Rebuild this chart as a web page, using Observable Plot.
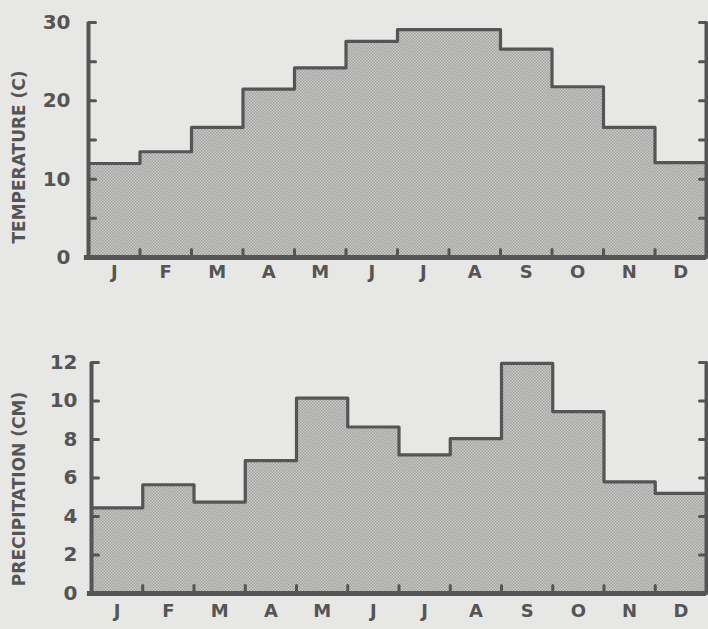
<!DOCTYPE html>
<html>
<head>
<meta charset="utf-8">
<script src="https://cdn.jsdelivr.net/npm/d3@7"></script>
<script src="https://cdn.jsdelivr.net/npm/@observablehq/plot@0.6"></script>
<style>
  html, body { margin: 0; padding: 0; background: #e7e7e5; }
  #wrap { width: 708px; height: 629px; position: relative; overflow: hidden; }
  #wrap svg { display: block; background: transparent; }
</style>
</head>
<body>
<div id="wrap"></div>
<script>
const months = ["J","F","M","A","M","J","J","A","S","O","N","D"];
const temperature = [12.0, 13.5, 16.6, 21.5, 24.2, 27.6, 29.1, 29.1, 26.6, 21.8, 16.6, 12.1];
const precipitation = [4.45, 5.65, 4.75, 6.9, 10.15, 8.65, 7.2, 8.05, 11.95, 9.45, 5.8, 5.2];
const tempTicks = [0, 5, 10, 15, 20, 25, 30];
const tempLabels = [0, 10, 20, 30];
const precTicks = [0, 2, 4, 6, 8, 10, 12];
const precLabels = [0, 2, 4, 6, 8, 10, 12];

const INK = "#555";
const FONT = "'DejaVu Sans', Lato, sans-serif";

function steps(values) {
  const rows = values.map((v, i) => ({x: i, v}));
  rows.push({x: values.length, v: values[values.length - 1]});
  return rows;
}

const lineShape = {draw(context, l) { context.moveTo(0, 0); context.lineTo(0, -l); }};

function chart({values, yMax, ticks, labels, yLabel, height, marginTop, marginBottom, marginLeft, tickPadding, monthDy, labelY}) {
  const data = steps(values);
  const svg = Plot.plot({
    width: 708,
    height,
    marginTop,
    marginBottom,
    marginLeft,
    marginRight: 2,
    style: {background: "transparent", fontFamily: FONT, color: INK},
    x: {domain: [0, 12], axis: null},
    y: {domain: [0, yMax], axis: null},
    marks: [
      Plot.areaY(data, {x: "x", y: "v", curve: "step-after", fill: "url(#dots)"}),
      Plot.lineY(data, {x: "x", y: "v", curve: "step-after", stroke: INK, strokeWidth: 3.2}),
      Plot.vector(ticks, {x: 0, y: d => d, length: 7, rotate: 90, anchor: "start", shape: lineShape, stroke: INK, strokeWidth: 3}),
      Plot.vector(ticks, {x: 12, y: d => d, length: 7, rotate: -90, anchor: "start", shape: lineShape, stroke: INK, strokeWidth: 3}),
      Plot.vector(d3.range(1, 12), {x: d => d, y: 0, length: 8, rotate: 0, anchor: "start", shape: lineShape, stroke: INK, strokeWidth: 3}),
      Plot.axisY({ticks: labels, anchor: "left", tickSize: 0, tickPadding, fontSize: 20, fontWeight: "bold", fill: INK, label: null}),
      Plot.axisX({ticks: d3.range(12).map(i => i + 0.5), anchor: "bottom", tickSize: 0, tickPadding: monthDy,
        tickFormat: d => months[Math.floor(d)], fontSize: 18, fontWeight: "bold", fill: INK, label: null}),
      Plot.ruleX([0], {stroke: INK, strokeWidth: 4}),
      Plot.ruleX([12], {stroke: INK, strokeWidth: 4}),
      Plot.ruleY([0], {stroke: INK, strokeWidth: 5, x1: -0.08, x2: 12})
    ]
  });
  const s = d3.select(svg);
  const defs = s.insert("defs", ":first-child");
  const p = defs.append("pattern").attr("id", "dots").attr("patternUnits", "userSpaceOnUse")
    .attr("width", 3).attr("height", 3);
  p.append("rect").attr("width", 3).attr("height", 3).attr("fill", "#cbcbc9");
  p.append("rect").attr("x", 0).attr("y", 0).attr("width", 1.5).attr("height", 1.5).attr("fill", "#a0a09e");
  p.append("rect").attr("x", 1.5).attr("y", 1.5).attr("width", 1.5).attr("height", 1.5).attr("fill", "#a0a09e");
  s.append("text")
    .attr("transform", `translate(20,${labelY}) rotate(-90)`)
    .attr("text-anchor", "middle")
    .attr("font-family", FONT)
    .attr("font-weight", "bold")
    .attr("font-size", 17)
    .attr("fill", INK)
    .attr("dominant-baseline", "middle")
    .text(yLabel);
  return svg;
}

const wrap = document.getElementById("wrap");
wrap.appendChild(chart({values: temperature, yMax: 30, ticks: tempTicks, labels: tempLabels, yLabel: "TEMPERATURE (C)",
  height: 290, marginTop: 22, marginBottom: 33, marginLeft: 88, tickPadding: 18, monthDy: 8, labelY: 157}));
wrap.appendChild(chart({values: precipitation, yMax: 12, ticks: precTicks, labels: precLabels, yLabel: "PRECIPITATION (CM)",
  height: 339, marginTop: 72, marginBottom: 36, marginLeft: 91, tickPadding: 14, monthDy: 11, labelY: 199}));
</script>
</body>
</html>
